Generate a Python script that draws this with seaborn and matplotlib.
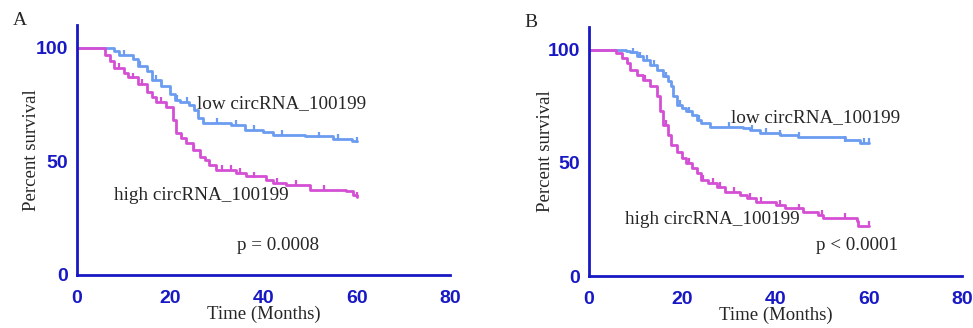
import numpy as np
import pandas as pd
import matplotlib
matplotlib.use("Agg")
import matplotlib.pyplot as plt
import seaborn as sns

# ── Data ──────────────────────────────────────────────────
# Panel A, low circRNA_100199
a_low_t = [0, 8, 9, 12, 13, 15, 16, 18, 20, 21, 22, 24, 25, 26, 27, 33, 36, 40, 42, 49, 55, 59, 60]
a_low_s = [100, 98.5, 97, 94.9, 92, 89.7, 86, 83, 79.5, 77.2, 76, 75, 72.8, 69, 67, 66, 64, 62.8, 61.8, 61, 59.8, 58.8, 58.8]
a_low_cens = [10, 13.5, 17, 21.5, 23.5, 30, 34, 38, 44, 52, 56, 60]

# Panel A, high circRNA_100199
a_high_t = [0, 6, 7, 8, 10, 11, 13, 15, 16, 17, 19, 20.6, 21.3, 22.4, 23.4, 24.9, 26.3, 27.4, 28.4, 29.9,
            34.1, 36.3, 40.6, 42, 44.9, 49.9, 57.7, 59.1, 60]
a_high_s = [100, 97, 94, 91, 89, 87, 84, 80.5, 78.5, 76, 74, 68.4, 62.5, 60.3, 58, 55, 52, 50.5, 48.5, 46.3,
            45, 43.4, 41.9, 40.4, 39.7, 37.5, 36.8, 35.3, 34.3]
a_high_cens = [9, 12, 14, 18, 25, 31, 33, 35, 38, 43, 47, 53, 60]

# Panel B, low circRNA_100199
b_low_t = [0, 8, 8.8, 10.2, 11.6, 13.1, 14.5, 15.9, 17, 17.7, 18.1, 18.8, 19.9, 20.9, 22, 23.1, 24.1, 25.9,
           33.1, 34.5, 36.6, 40.9, 44.9, 54.9, 58.1, 60]
b_low_s = [100, 99.5, 98.8, 97, 95.6, 93.4, 91.2, 88.2, 86, 83.8, 79.4, 75.7, 74.2, 72.7, 71.2, 69, 67.5, 66,
           65.5, 64.6, 63.1, 62.4, 61.4, 59.9, 58.7, 58.7]
b_low_cens = [9.5, 11, 12.5, 14, 16.5, 19.5, 21.5, 23.5, 30, 35, 38, 41, 45, 55, 59, 60]

# Panel B, high circRNA_100199
b_high_t = [0, 5.9, 7, 8.1, 8.8, 10.2, 11.6, 13.1, 14.5, 15.2, 15.9, 17, 17.7, 18.8, 19.9, 20.9, 22, 23.1,
            24.1, 25.6, 27.4, 29.1, 32.4, 33.8, 35.9, 40.2, 42, 45.9, 49.1, 50.2, 57.4, 57.7, 60]
b_high_s = [100, 98.5, 96.3, 94.1, 91.2, 88.9, 86.7, 83.8, 79.4, 72.7, 66.8, 62.4, 58, 55, 52.1, 49.9, 47.6,
            45.4, 42.5, 41, 39.5, 37.3, 35.8, 34.4, 32.9, 31.4, 29.9, 28.5, 27, 25.5, 24.1, 22.1, 22.1]
b_high_cens = [12, 16.5, 21.5, 24.5, 26.5, 28, 31, 34.5, 37, 41, 45, 50, 55, 60]

LOW_COLOR = "#6b9cf0"
HIGH_COLOR = "#d44fd4"
AXIS_COLOR = "#1818c4"


def step_df(t, s, name):
    return pd.DataFrame({"time": t, "surv": s, "group": name})


def surv_at(t, s, times):
    t = np.asarray(t)
    s = np.asarray(s)
    idx = np.searchsorted(t, times, side="right") - 1
    return s[idx]


def draw_panel(ax, low, high, texts, letter, letter_x, ylabel_x):
    for (t, s, cens), color in [(low, LOW_COLOR), (high, HIGH_COLOR)]:
        df = step_df(t, s, "g")
        sns.lineplot(data=df, x="time", y="surv", ax=ax, color=color,
                     drawstyle="steps-post", linewidth=2.0, estimator=None, sort=False)
        cy = surv_at(t, s, cens)
        ax.plot(cens, cy + 0.8, linestyle="none", marker="|", markersize=5,
                markeredgewidth=1.6, color=color)

    ax.set_xlim(0, 80)
    ax.set_ylim(0, 110)
    ax.set_xticks([0, 20, 40, 60, 80])
    ax.set_yticks([0, 50, 100])
    sns.despine(ax=ax)
    for side in ["left", "bottom"]:
        ax.spines[side].set_color(AXIS_COLOR)
        ax.spines[side].set_linewidth(2.0)
    ax.tick_params(colors=AXIS_COLOR, width=2.0, length=4, labelsize=14)
    ax.tick_params(axis="x", pad=6.5)
    ax.tick_params(axis="y", pad=2.5)
    for lab in ax.get_xticklabels() + ax.get_yticklabels():
        lab.set_fontweight("bold")
        lab.set_family("Liberation Sans")
    ax.set_xlabel("Time (Months)", family="Liberation Serif", fontsize=13.5, labelpad=-1)
    ax.set_ylabel("Percent survival", family="Liberation Serif", fontsize=13.5)
    ax.yaxis.set_label_coords(ylabel_x, 0.5)
    for x, y, s in texts:
        ax.text(x, y, s, family="Liberation Serif", fontsize=13.8, va="center", ha="left")
    ax.text(letter_x, 1.02, letter, transform=ax.transAxes, family="Liberation Serif",
            fontsize=14, va="center", ha="left")


sns.set_theme(style="white")
fig = plt.figure(figsize=(9.73, 3.28), dpi=100)
ax_a = fig.add_axes([0.0791, 0.1616, 0.3834, 0.762])
ax_b = fig.add_axes([0.6053, 0.1585, 0.3834, 0.759])

draw_panel(ax_a, (a_low_t, a_low_s, a_low_cens), (a_high_t, a_high_s, a_high_cens),
           [(25.7, 75.3, "low circRNA_100199"), (7.9, 34.8, "high circRNA_100199"),
            (34.3, 13.2, "p = 0.0008")], "A", -0.172, -0.099)
draw_panel(ax_b, (b_low_t, b_low_s, b_low_cens), (b_high_t, b_high_s, b_high_cens),
           [(30.4, 70.2, "low circRNA_100199"), (7.7, 24.8, "high circRNA_100199"),
            (48.7, 13.7, "p < 0.0001")], "B", -0.172, -0.094)

fig.savefig("out.png", dpi=100)
